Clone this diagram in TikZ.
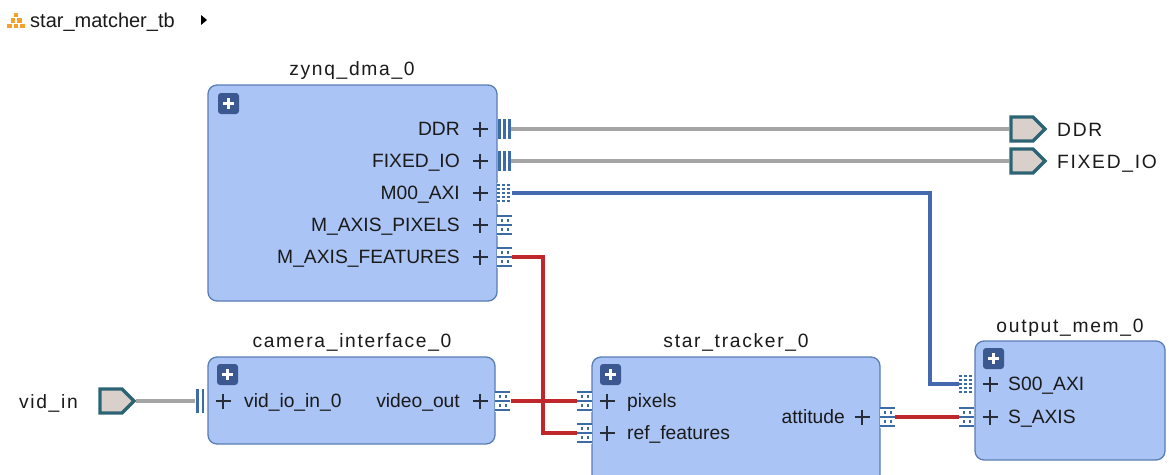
\documentclass[tikz,border=0pt]{standalone}
\usepackage{fontspec}
\setmainfont{Liberation Sans}
\newfontfamily\spacedfont[LetterSpace=8.8]{Liberation Sans}
\usetikzlibrary{shapes.symbols,calc}

\definecolor{blockfill}{HTML}{AAC4F5}
\definecolor{blockline}{HTML}{5A7DB5}
\definecolor{iconblue}{HTML}{3B5890}
\definecolor{pinblue}{HTML}{3D6BA6}
\definecolor{wiregray}{HTML}{A5A5A5}
\definecolor{wireblue}{HTML}{4469AE}
\definecolor{wirered}{HTML}{C0272D}
\definecolor{extfill}{HTML}{D9D0CC}
\definecolor{extline}{HTML}{2D6475}
\definecolor{txt}{HTML}{1A1A1A}
\definecolor{hierorange}{HTML}{F5A02A}

\tikzset{
  block/.style={rectangle, rounded corners=9, fill=blockfill, draw=blockline,
    line width=1.3, inner sep=0, outer sep=0},
  blocktitle/.style={anchor=base, inner sep=0, text=txt, font=\spacedfont\fontsize{19.25}{21}\selectfont},
  pinlabel/.style={inner sep=0, text=txt, font=\fontsize{19.25}{21}\selectfont},
  extport/.style={signal, signal to=east, signal from=nowhere, fill=extfill,
    draw=extline, line width=3.4, minimum width=34, minimum height=24, inner sep=0},
  extlabel/.style={inner sep=0, text=txt, font=\spacedfont\fontsize{19.25}{21}\selectfont},
  wgray/.style={draw=wiregray, line width=4.5},
  wblue/.style={draw=wireblue, line width=4},
  wred/.style={draw=wirered, line width=4},
  % small "+" marker beside each pin
  pics/pinplus/.style={code={
    \draw[txt!80!blockline, line width=1.1] (-7.5,0) -- (7.5,0) (0,-7.5) -- (0,7.5);}},
  % expand button in the upper left corner of a block
  pics/expander/.style={code={
    \fill[iconblue, rounded corners=3] (0,0) rectangle (21,21);
    \draw[white, line width=3] (5,10.5) -- (16,10.5) (10.5,5) -- (10.5,16);}},
  % interface pin: three vertical bars
  pics/pinintf/.style={code={
    \foreach \dx in {2.5,7.5,12.5}
      \draw[pinblue, line width=2.4] (\dx,-10) -- (\dx,10);}},
  % bus pin: two vertical bars
  pics/pinbus/.style={code={
    \foreach \dx in {2.5,8}
      \draw[pinblue, line width=2.4] (\dx,-12) -- (\dx,12);}},
  % AXI pin: grid of dots
  pics/pinaxi/.style={code={
    \fill[white] (0,-10.5) rectangle (15,10.5);
    \foreach \dx in {1.5,6.5,11.5}
      \foreach \dy in {-8,-4,0,4,8}
        \fill[pinblue] (\dx-1.2,\dy-1.2) rectangle (\dx+1.2,\dy+1.2);}},
  % AXI-Stream pin: bars with rows of dots between them
  pics/pinaxis/.style={code={
    \fill[white] (0,-10.5) rectangle (15,10.5);
    \foreach \dy in {-9,0,9}
      \draw[pinblue, line width=2.2] (0,\dy) -- (15,\dy);
    \foreach \dx in {5,11}
      \foreach \dy in {-4.5,4.5}
        \fill[pinblue] (\dx-1.2,\dy-1.2) rectangle (\dx+1.2,\dy+1.2);}},
}

\begin{document}
\begin{tikzpicture}[x=1pt, y=-1pt]
\useasboundingbox (0,0) rectangle (1169,474);
\clip (0,0) rectangle (1169,474);
\fill[white] (0,0) rectangle (1169,474);

% design header
\foreach \px/\py in {16/15, 12.8/20.5, 19.2/20.5, 9.6/26, 16/26, 22.4/26}
  \fill[hierorange] (\px-2.3,\py-2.3) rectangle (\px+2.3,\py+2.3);
\node[anchor=base west, inner sep=0, text=txt, font=\fontsize{20}{22}\selectfont]
  (design) at (30,27.5) {star\_matcher\_tb};
\fill[black] (201,15) -- (207,20) -- (201,25) -- cycle;

% blocks
\node[block, minimum width=289, minimum height=216] (zynq) at (352.5,193) {};
\node[block, minimum width=287, minimum height=87] (cam) at (351.5,400.5) {};
\node[block, minimum width=288, minimum height=140] (st) at (736,427) {};
\node[block, minimum width=190, minimum height=119] (om) at (1070,400.5) {};

\node[blocktitle] (zynq-t) at (352,75) {zynq\_dma\_0};
\node[blocktitle] (cam-t) at (352,347) {camera\_interface\_0};
\node[blocktitle] (st-t) at (736,347) {star\_tracker\_0};
\node[blocktitle] (om-t) at (1070,332) {output\_mem\_0};

\pic at ($(zynq.north west)+(10,8)$) {expander};
\pic at ($(cam.north west)+(9,7)$) {expander};
\pic at ($(st.north west)+(8,7)$) {expander};
\pic at ($(om.north west)+(8,7)$) {expander};

% pin labels
\foreach \y/\t in {129/DDR, 161/FIXED\_IO, 193/M00\_AXI, 225/M\_AXIS\_PIXELS, 257/M\_AXIS\_FEATURES}{
  \node[pinlabel, anchor=base east] at (460,\y+6.9) {\t};
  \pic at (480,\y) {pinplus};
}
\pic at (223,401) {pinplus};
\node[pinlabel, anchor=base west] (cam-in-l) at (244,407.9) {vid\_io\_in\_0};
\node[pinlabel, anchor=base east] (cam-out-l) at (460,407.9) {video\_out};
\pic at (480,401) {pinplus};
\pic at (607,401) {pinplus};
\node[pinlabel, anchor=base west] (st-pix-l) at (627,407.9) {pixels};
\pic at (607,433) {pinplus};
\node[pinlabel, anchor=base west] (st-ref-l) at (627,439.9) {ref\_features};
\node[pinlabel, anchor=base east] (st-att-l) at (845,423.9) {attitude};
\pic at (862,417) {pinplus};
\pic at (990,384) {pinplus};
\node[pinlabel, anchor=base west] (om-s00-l) at (1008,390.9) {S00\_AXI};
\pic at (990,417) {pinplus};
\node[pinlabel, anchor=base west] (om-saxis-l) at (1008,423.9) {S\_AXIS};

% external ports
\node[extport] (ddr) at (1022,129) {};
\node[extport] (fio) at (1022,161) {};
\node[extport] (vin) at (111,401) {};
\node[extlabel, anchor=base west] (ddr-l) at (1057,136) {DDR};
\node[extlabel, anchor=base west] (fio-l) at (1057,168) {FIXED\_IO};
\node[extlabel, anchor=base east] (vin-l) at (78,408) {vid\_in};

% pin end points
\coordinate (z-ddr) at (511,129);
\coordinate (z-fio) at (511,161);
\coordinate (z-m00) at (511,193);
\coordinate (z-feat) at (511,257);
\coordinate (c-in) at (195,401);
\coordinate (c-out) at (511,401);
\coordinate (s-pix) at (577,401);
\coordinate (s-ref) at (577,433);
\coordinate (s-att) at (895,417);
\coordinate (o-s00) at (959,384);
\coordinate (o-saxis) at (959,417);

% nets
\draw[wgray] (z-ddr) -- (ddr.west);
\draw[wgray] (z-fio) -- (fio.west);
\draw[wgray] (vin.east) -- (c-in);
\draw[wblue] (z-m00) -- (930,193) |- (o-s00);
\draw[wred] (z-feat) -- (543,257) |- (s-ref);
\draw[wred] (c-out) -- (s-pix);
\draw[wred] (s-att) -- (o-saxis);

% pins
\pic at (497,129) {pinintf};
\pic at (497,161) {pinintf};
\pic at (497,193) {pinaxi};
\pic at (497,225) {pinaxis};
\pic at (497,257) {pinaxis};
\pic at (195,401) {pinbus};
\pic at (495,401) {pinaxis};
\pic at (577,401) {pinaxis};
\pic at (577,433) {pinaxis};
\pic at (880,417) {pinaxis};
\pic at (959,384) {pinaxi};
\pic at (959,417) {pinaxis};
\end{tikzpicture}
\end{document}
